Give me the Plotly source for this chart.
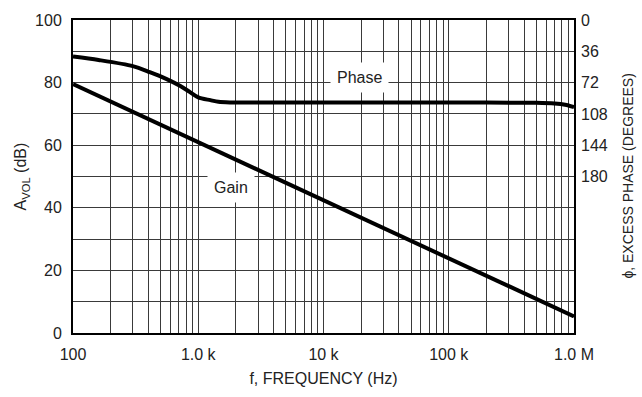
import plotly.graph_objects as go

# ---- data ----
gain_freq = [100, 1000, 10000, 100000, 1000000]
gain_db = [79.5, 61.0, 42.5, 24.0, 5.3]

phase_freq = [100, 160, 300, 410, 560, 720, 860, 1000, 1250, 1450, 1800, 3000,
              10000, 100000, 500000, 700000, 850000, 1000000]
phase_deg = [42, 46, 53, 60, 68, 76, 83, 89, 92.2, 94.1, 94.8, 95,
             95, 95, 95.2, 96, 97.5, 100.3]

x_tick_vals = [100, 1000, 10000, 100000, 1000000]
x_tick_text = ["100", "1.0 k", "10 k", "100 k", "1.0 M"]
y_tick_vals = [0, 20, 40, 60, 80, 100]
phase_tick_vals = [0, 36, 72, 108, 144, 180]

FONT = "Liberation Sans, Arial, sans-serif"
TXT = "#222222"
GRID = "#3a3a3a"

minor_x = [m * 10 ** e for e in range(2, 6) for m in range(2, 10)]

fig = go.Figure()
fig.add_trace(go.Scatter(x=gain_freq, y=gain_db, mode="lines",
                         line=dict(color="black", width=4), yaxis="y",
                         showlegend=False))
fig.add_trace(go.Scatter(x=phase_freq, y=phase_deg, mode="lines",
                         line=dict(color="black", width=4, shape="spline",
                                   smoothing=0.8),
                         yaxis="y2", showlegend=False))

fig.update_layout(
    width=642, height=397,
    margin=dict(l=73, r=68, t=17, b=56),
    paper_bgcolor="white", plot_bgcolor="white",
    font=dict(family=FONT, size=16, color=TXT),
    xaxis=dict(type="log", range=[2, 6], tickmode="array",
               tickvals=x_tick_vals, ticktext=x_tick_text,
               showgrid=True, gridcolor=GRID, gridwidth=1,
               minor=dict(tickmode="array", tickvals=minor_x, showgrid=True,
                          gridcolor=GRID, gridwidth=1, ticks=""),
               showline=True, linecolor="black", linewidth=2, mirror=True,
               ticks="", ticklabelstandoff=6, zeroline=False,
               title=dict(text="f, FREQUENCY (Hz)", standoff=11,
                          font=dict(size=16))),
    yaxis=dict(range=[0, 100], tickmode="array", tickvals=y_tick_vals,
               showgrid=True, gridcolor=GRID, gridwidth=1,
               minor=dict(dtick=10, showgrid=True, gridcolor=GRID,
                          gridwidth=1, ticks=""),
               showline=True, linecolor="black", linewidth=2, mirror=True,
               ticks="", ticklabelstandoff=6, zeroline=False),
    yaxis2=dict(overlaying="y", side="right", range=[360, 0],
                tickmode="array", tickvals=phase_tick_vals,
                showgrid=False, zeroline=False, showline=False,
                ticks="", ticklabelstandoff=6),
)

fig.add_annotation(text="A<sub>VOL</sub> (dB)", xref="paper", yref="paper",
                   x=-0.102, y=0.5, xanchor="center", yanchor="middle",
                   textangle=-90, showarrow=False, font=dict(size=16))
fig.add_annotation(text="\u03d5, EXCESS PHASE (DEGREES)", xref="paper", yref="paper",
                   x=1.106, y=0.5, xanchor="center", yanchor="middle",
                   textangle=-90, showarrow=False, font=dict(size=14))
fig.add_annotation(text="Phase", x=4.2875, y=81.5, xref="x", yref="y",
                   showarrow=False, bgcolor="white", borderpad=6,
                   font=dict(size=16))
fig.add_annotation(text="Gain", x=3.2615, y=46.6, xref="x", yref="y",
                   showarrow=False, bgcolor="white", borderpad=6,
                   font=dict(size=16))

fig.write_html("out.html")
